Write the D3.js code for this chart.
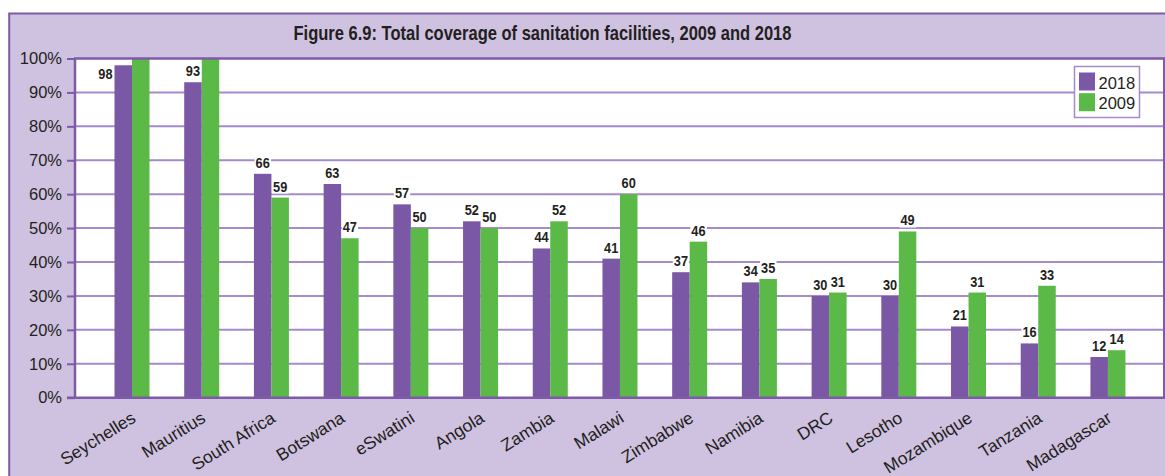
<!DOCTYPE html>
<html>
<head>
<meta charset="utf-8">
<script src="https://cdn.jsdelivr.net/npm/d3@7"></script>
<style>
  html, body { margin: 0; padding: 0; background: #ffffff; }
  svg { display: block; }
  text { fill: #231f20; }
</style>
</head>
<body>
<svg id="chart" width="1165" height="476"></svg>
<script>
// Sanitation coverage (% of population), by country
const countries = ["Seychelles", "Mauritius", "South Africa", "Botswana", "eSwatini", "Angola", "Zambia",
  "Malawi", "Zimbabwe", "Namibia", "DRC", "Lesotho", "Mozambique", "Tanzania", "Madagascar"];
const seriesNames = ["2018", "2009"];
const values2018 = [98, 93, 66, 63, 57, 52, 44, 41, 37, 34, 30, 30, 21, 16, 12];
const values2009 = [100, 100, 59, 47, 50, 50, 52, 60, 46, 35, 31, 49, 31, 33, 14];
const yTicks = [0, 10, 20, 30, 40, 50, 60, 70, 80, 90, 100];
const titleText = "Figure 6.9: Total coverage of sanitation facilities, 2009 and 2018";

const colors = { "2018": "#7b58a6", "2009": "#5bb947" };
const frameFill = "#cfc2e0";
const frameStroke = "#7e5aa8";
const gridColor = "#a58bcb";
const narrow = "'Liberation Sans Narrow', 'Arial Narrow', 'Liberation Sans', sans-serif";
const regular = "'Liberation Sans', Arial, sans-serif";

const svg = d3.select("#chart");

const plot = { left: 75, right: 1164, top: 58.5, bottom: 397.7 };

// outer lavender frame
svg.append("rect")
  .attr("x", 9.2).attr("y", 13.5)
  .attr("width", 1180).attr("height", 500)
  .attr("fill", frameFill)
  .attr("stroke", frameStroke).attr("stroke-width", 2);

// title, condensed to its column width
svg.append("text")
  .attr("x", 542.5).attr("y", 39.5)
  .attr("text-anchor", "middle")
  .attr("textLength", 498)
  .attr("lengthAdjust", "spacingAndGlyphs")
  .style("font-family", narrow)
  .style("font-weight", "bold")
  .style("font-size", "20.5px")
  .text(titleText);

// plot background
svg.append("rect")
  .attr("x", plot.left).attr("y", plot.top)
  .attr("width", plot.right - plot.left).attr("height", plot.bottom - plot.top)
  .attr("fill", "#ffffff");

const y = d3.scaleLinear().domain([0, 100]).range([plot.bottom, plot.top]);

const groupStep = 69.71;
const firstCenter = 132;
const x = d3.scaleBand()
  .domain(countries)
  .range([firstCenter - groupStep / 2, firstCenter - groupStep / 2 + groupStep * countries.length])
  .padding(0);
const xs = d3.scaleBand().domain(seriesNames).range([-17.5, 17.5]).padding(0);
const center = c => x(c) + x.bandwidth() / 2;

// horizontal gridlines
svg.append("g")
  .selectAll("line")
  .data(yTicks.filter(t => t > 0 && t < 100))
  .join("line")
  .attr("x1", plot.left).attr("x2", plot.right)
  .attr("y1", d => y(d)).attr("y2", d => y(d))
  .attr("stroke", gridColor).attr("stroke-width", 2);

// y axis
const yAxis = d3.axisLeft(y)
  .tickValues(yTicks)
  .tickFormat(d => d + "%")
  .tickSize(8)
  .tickPadding(5);
const yg = svg.append("g")
  .attr("transform", `translate(${plot.left},0)`)
  .call(yAxis);
yg.select(".domain").remove();
yg.selectAll(".tick line").attr("stroke", frameStroke).attr("stroke-width", 2);
yg.selectAll(".tick text")
  .style("font-family", regular)
  .style("font-size", "16.5px")
  .attr("fill", "#231f20");

// legend (drawn before bars so gridline sits behind it)
const legend = svg.append("g");
legend.append("rect")
  .attr("x", 1074.5).attr("y", 66.5).attr("width", 65).attr("height", 51)
  .attr("fill", "#ffffff").attr("stroke", gridColor).attr("stroke-width", 1.5);
seriesNames.forEach((s, i) => {
  legend.append("rect")
    .attr("x", 1079).attr("y", 72.5 + i * 20.7)
    .attr("width", 16).attr("height", 18)
    .attr("fill", colors[s]);
  legend.append("text")
    .attr("x", 1098.5).attr("y", 88.5 + i * 20.7)
    .style("font-family", regular)
    .style("font-size", "16.5px")
    .text(s);
});

// bars
const rows = countries.map((c, i) => ({ country: c, "2018": values2018[i], "2009": values2009[i] }));
const cells = rows.flatMap(r => seriesNames.map(s => ({ country: r.country, series: s, value: r[s] })));

svg.append("g")
  .selectAll("rect")
  .data(cells)
  .join("rect")
  .attr("x", d => center(d.country) + xs(d.series))
  .attr("width", xs.bandwidth())
  .attr("y", d => y(Math.min(d.value, 100)))
  .attr("height", d => y(0) - y(Math.min(d.value, 100)))
  .attr("fill", d => colors[d.series]);

// plot frame: top border, left axis line, bottom axis line, right border
svg.append("line").attr("x1", plot.left - 1).attr("x2", plot.right + 2)
  .attr("y1", plot.top).attr("y2", plot.top)
  .attr("stroke", frameStroke).attr("stroke-width", 2.5);
svg.append("line").attr("x1", plot.left).attr("x2", plot.left)
  .attr("y1", plot.top).attr("y2", plot.bottom + 1)
  .attr("stroke", frameStroke).attr("stroke-width", 2.5);
svg.append("line").attr("x1", plot.right).attr("x2", plot.right)
  .attr("y1", plot.top).attr("y2", plot.bottom + 1)
  .attr("stroke", frameStroke).attr("stroke-width", 2);
svg.append("line").attr("x1", plot.left - 8).attr("x2", plot.right + 2)
  .attr("y1", plot.bottom).attr("y2", plot.bottom)
  .attr("stroke", frameStroke).attr("stroke-width", 2.5);

// value labels with white backing
const labelCells = cells.filter(d => d.value < 100);
const labels = svg.append("g");
labelCells.forEach(d => {
  const barX = center(d.country) + xs(d.series);
  const top = y(d.value);
  const g = labels.append("g");
  const txt = String(d.value);
  const t = g.append("text")
    .attr("textLength", txt.length * 7.1)
    .attr("lengthAdjust", "spacingAndGlyphs")
    .style("font-family", narrow)
    .style("font-weight", "bold")
    .style("font-size", "15.5px")
    .text(txt);
  // label sits above the bar; if that would cross the plot top, put it beside the bar
  if (top - 17 < plot.top) {
    t.attr("x", barX - 2).attr("y", top + 14).attr("text-anchor", "end");
  } else {
    t.attr("x", barX + xs.bandwidth() / 2).attr("y", top - 6).attr("text-anchor", "middle");
  }
  const bb = t.node().getBBox();
  g.insert("rect", "text")
    .attr("x", bb.x - 1).attr("y", bb.y + 1)
    .attr("width", bb.width + 2).attr("height", bb.height - 2)
    .attr("fill", "#ffffff");
});

// category labels, rotated
svg.append("g")
  .selectAll("text")
  .data(countries)
  .join("text")
  .attr("transform", d => `translate(${center(d) + 5},${421}) rotate(-32)`)
  .attr("text-anchor", "end")
  .style("font-family", regular)
  .style("font-size", "17.5px")
  .text(d => d);
</script>
</body>
</html>
